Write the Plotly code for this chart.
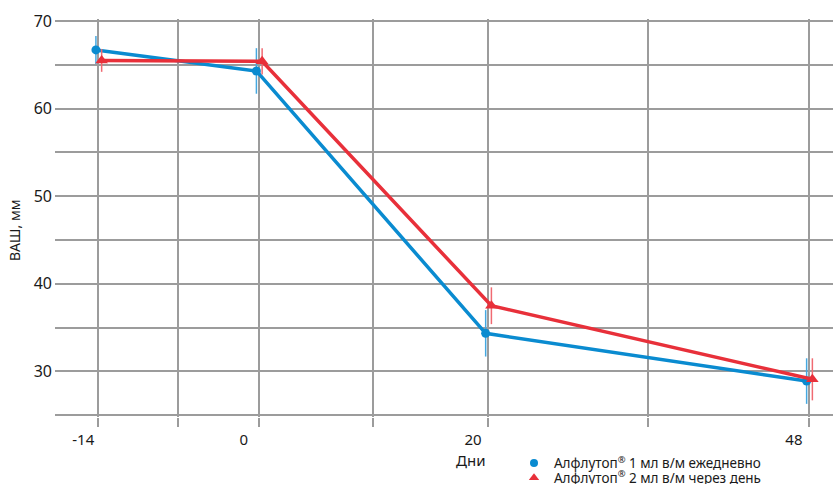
import plotly.graph_objects as go

# Data
days = [-14, 0, 20, 48]
grid_days = [-14, -7, 0, 10, 20, 34, 48]
tick_text = ["-14", "", "0", "", "20", "", "48"]

daily_name = "Алфлутоп<sup>®</sup> 1 мл в/м ежедневно"
daily_vas = [66.7, 64.3, 34.35, 28.9]
daily_err = [1.6, 2.6, 2.65, 2.6]

alt_name = "Алфлутоп<sup>®</sup> 2 мл в/м через день"
alt_vas = [65.5, 65.4, 37.5, 29.1]
alt_err = [1.3, 1.5, 2.1, 2.4]

y_tickvals = [25, 30, 35, 40, 45, 50, 55, 60, 65, 70]
y_ticktext = ["", "30", "", "40", "", "50", "", "60", "", "70"]

BLUE = "#0a8bd0"
RED = "#e8303a"
BLUE_ERR = "#45a8e0"
RED_ERR = "#f06a72"
GRID = "#9c9c9c"
FONT = "Noto Sans"

dodge_blue = -0.2
dodge_red = 0.3

fig = go.Figure()
fig.add_trace(go.Scatter(
    x=[d + dodge_blue for d in days], y=daily_vas, mode="lines+markers",
    line=dict(color=BLUE, width=3.5),
    marker=dict(symbol="circle", size=9, color=BLUE),
    error_y=dict(type="data", array=daily_err, color=BLUE_ERR, thickness=1.5, width=0),
    showlegend=False,
))
fig.add_trace(go.Scatter(
    x=[d + dodge_red for d in days], y=alt_vas, mode="lines+markers",
    line=dict(color=RED, width=3.5),
    marker=dict(symbol="triangle-up", size=11, color=RED),
    error_y=dict(type="data", array=alt_err, color=RED_ERR, thickness=1.5, width=0),
    showlegend=False,
))
# legend entries (markers only)
fig.add_trace(go.Scatter(x=[None], y=[None], mode="markers", name=daily_name, legend="legend",
                         marker=dict(symbol="circle", size=8, color=BLUE)))
fig.add_trace(go.Scatter(x=[None], y=[None], mode="markers", name=alt_name, legend="legend2",
                         marker=dict(symbol="triangle-up", size=9, color=RED)))

legend_common = dict(xref="container", yref="container", x=514 / 833,
                     xanchor="left", yanchor="top",
                     font=dict(size=13.5), bgcolor="rgba(0,0,0,0)", itemwidth=30)

fig.update_layout(
    width=833, height=484,
    margin=dict(l=55, r=0, t=19, b=67, autoexpand=False),
    paper_bgcolor="white", plot_bgcolor="white",
    font=dict(family=FONT, size=15, color="#1a1a1a"),
    xaxis=dict(
        range=[-17.77, 50.1], tickmode="array", tickvals=grid_days, ticktext=tick_text,
        showgrid=True, gridcolor=GRID, gridwidth=1.5, zeroline=False,
        ticks="outside", ticklen=9, tickcolor=GRID, tickwidth=1.5,
        ticklabelshift=-15, ticklabelstandoff=0,
        showline=False, tickfont=dict(size=15), automargin=False,
    ),
    yaxis=dict(
        range=[24.8, 70.23], tickmode="array", tickvals=y_tickvals, ticktext=y_ticktext,
        showgrid=True, gridcolor=GRID, gridwidth=1.5, zeroline=False,
        ticks="", showline=False, tickfont=dict(size=16), ticklabelstandoff=2,
        automargin=False,
    ),
    legend=dict(y=1 - 447.7 / 484, **legend_common),
    legend2=dict(y=1 - 462.5 / 484, **legend_common),
    annotations=[
        dict(text="Дни", xref="paper", yref="paper", x=(470 - 55) / 778, y=-(460 - 417) / 398,
             xanchor="center", yanchor="middle", showarrow=False, font=dict(size=15)),
        dict(text="ВАШ, мм", xref="paper", yref="paper", x=-(55 - 14) / 778, y=(417 - 231) / 398,
             xanchor="center", yanchor="middle", showarrow=False, textangle=-90, font=dict(size=14)),
    ],
)

fig.write_html("out.html")
